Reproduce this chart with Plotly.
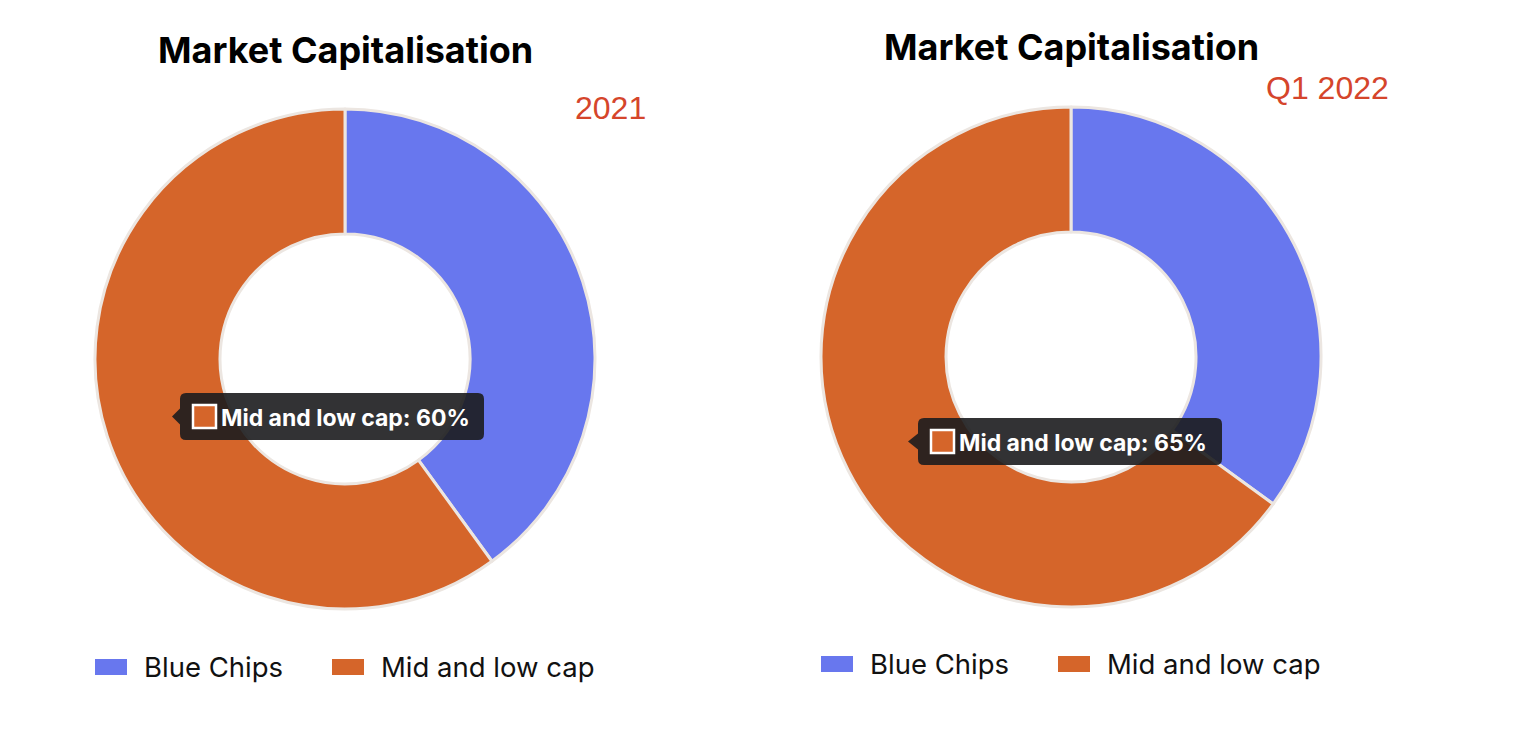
import plotly.graph_objects as go

# ---- data ----
labels = ["Blue Chips", "Mid and low cap"]
periods = ["2021", "Q1 2022"]
values_2021 = [40, 60]
values_q1_2022 = [35, 65]
colors = ["#6877EE", "#D5652A"]
title_text = "Market Capitalisation"

W, H = 1520, 742


def px(x):
    return x / W


def py(y):
    return 1 - y / H


FONT = "Inter, Roboto, 'Noto Sans', sans-serif"
FONT_ARIAL = "'Liberation Sans', Arial, sans-serif"

fig = go.Figure()

panels = [
    dict(values=values_2021, period=periods[0], cx=345, cy=359, r=250,
         title_y=50, sub_x=648, sub_y=108, legend_y=667,
         legend_x=[95, 332], tip=dict(x0=180, x1=484, y0=393, y1=440, tipx=172)),
    dict(values=values_q1_2022, period=periods[1], cx=1071, cy=357, r=250,
         title_y=47, sub_x=1391, sub_y=88, legend_y=664,
         legend_x=[821, 1058], tip=dict(x0=918, x1=1222, y0=418, y1=465, tipx=908)),
]

shapes = []
annotations = []

for p in panels:
    cx, cy, r = p["cx"], p["cy"], p["r"]
    fig.add_trace(go.Pie(
        labels=labels, values=p["values"], sort=False, direction="clockwise",
        rotation=0, hole=0.5, textinfo="none", showlegend=False,
        marker=dict(colors=colors, line=dict(color="#ECE6E1", width=3)),
        domain=dict(x=[px(cx - r), px(cx + r)], y=[py(cy + r), py(cy - r)]),
        hovertemplate="%{label}: %{value}%<extra></extra>",
    ))
    # title
    annotations.append(dict(
        text=f"<b>{title_text}</b>", x=px(cx), y=py(p["title_y"]), xref="paper", yref="paper",
        xanchor="center", yanchor="middle", showarrow=False,
        font=dict(family=FONT, size=36, color="#000000")))
    # subtitle (period)
    annotations.append(dict(
        text=p["period"], x=px(p["sub_x"]), y=py(p["sub_y"]), xref="paper", yref="paper",
        xanchor="right", yanchor="middle", showarrow=False,
        font=dict(family=FONT_ARIAL, size=32, color="#D5452B")))
    # legend
    for i, lab in enumerate(labels):
        lx = p["legend_x"][i]
        ly = p["legend_y"]
        shapes.append(dict(type="rect", xref="paper", yref="paper",
                           x0=px(lx), x1=px(lx + 32), y0=py(ly + 8), y1=py(ly - 8),
                           fillcolor=colors[i], line=dict(width=0)))
        annotations.append(dict(
            text=lab, x=px(lx + 47), y=py(ly), xref="paper", yref="paper",
            xanchor="left", yanchor="middle", showarrow=False,
            font=dict(family=FONT, size=27.5, color="#111111")))
    # tooltip
    t = p["tip"]
    x0, x1, y0, y1, tx = t["x0"], t["x1"], t["y0"], t["y1"], t["tipx"]
    ym = (y0 + y1) / 2
    rr = 6
    pts = [
        f"M{px(x0 + rr)},{py(y0)}",
        f"L{px(x1 - rr)},{py(y0)}",
        f"Q{px(x1)},{py(y0)} {px(x1)},{py(y0 + rr)}",
        f"L{px(x1)},{py(y1 - rr)}",
        f"Q{px(x1)},{py(y1)} {px(x1 - rr)},{py(y1)}",
        f"L{px(x0 + rr)},{py(y1)}",
        f"Q{px(x0)},{py(y1)} {px(x0)},{py(y1 - rr)}",
        f"L{px(x0)},{py(ym + 8)}",
        f"L{px(tx)},{py(ym)}",
        f"L{px(x0)},{py(ym - 8)}",
        f"L{px(x0)},{py(y0 + rr)}",
        f"Q{px(x0)},{py(y0)} {px(x0 + rr)},{py(y0)}",
        "Z",
    ]
    shapes.append(dict(type="path", xref="paper", yref="paper", path=" ".join(pts),
                       fillcolor="rgba(28,28,30,0.9)", line=dict(width=0), layer="above"))
    sx = x0 + 12
    shapes.append(dict(type="rect", xref="paper", yref="paper",
                       x0=px(sx + 1), x1=px(sx + 24), y0=py(ym + 11.5), y1=py(ym - 11.5),
                       fillcolor=colors[1], line=dict(color="#FFFFFF", width=2.5), layer="above"))
    annotations.append(dict(
        text=f"<b>{labels[1]}: {p['values'][1]}%</b>", x=px(sx + 27), y=py(ym + 1),
        xref="paper", yref="paper", xanchor="left", yanchor="middle", showarrow=False,
        font=dict(family=FONT, size=23, color="#FFFFFF")))

fig.update_layout(
    width=W, height=H, autosize=False,
    margin=dict(l=0, r=0, t=0, b=0),
    paper_bgcolor="#FFFFFF", plot_bgcolor="#FFFFFF",
    shapes=shapes, annotations=annotations,
    showlegend=False,
)

fig.write_html("out.html", config={"displayModeBar": False},
               post_script="document.body.style.margin='0';document.body.style.overflow='hidden';")
